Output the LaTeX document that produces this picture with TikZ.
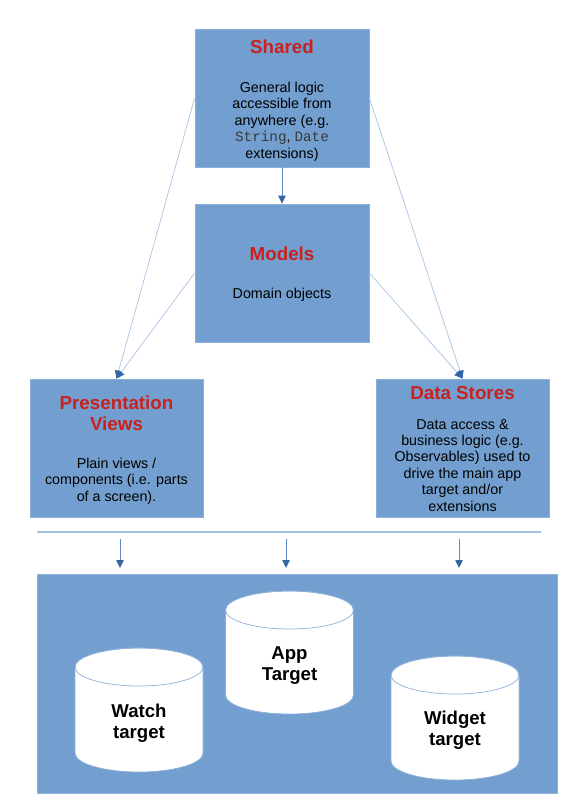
\documentclass[tikz,border=0pt]{standalone}
\usepackage{fontspec}
\setmainfont{Liberation Sans}
\newfontfamily\codefont{Liberation Mono}
\usetikzlibrary{arrows.meta}
\definecolor{boxblue}{HTML}{729FCF}
\definecolor{boxedge}{HTML}{8DB0DA}
\definecolor{linkblue}{HTML}{A7C3E3}
\definecolor{tipblue}{HTML}{3465A4}
\definecolor{downblue}{HTML}{5F8BC4}
\definecolor{titlered}{HTML}{C9211E}
\definecolor{codegray}{HTML}{3A3A3A}
\begin{document}
\begin{tikzpicture}[x=1pt,y=-1pt,
  layer/.style={draw=boxedge, line width=0.8pt, fill=boxblue, minimum width=174pt, minimum height=138pt, inner sep=0pt},
  titletext/.style={font=\fontsize{18.8}{21}\selectfont\bfseries, text=titlered, align=center, inner sep=0pt, anchor=north},
  bodytext/.style={font=\fontsize{14.3}{16.4}\selectfont, align=center, inner sep=0pt, anchor=north},
  cyltext/.style={font=\fontsize{18.6}{21}\selectfont\bfseries, align=center, inner sep=0pt, anchor=north},
  link/.style={draw=linkblue, line width=0.7pt, -{Triangle[length=8pt,width=7.5pt,color=tipblue]}},
  downarrow/.style={draw=downblue, line width=0.8pt, -{Triangle[length=8pt,width=7.5pt,color=tipblue]}},
  cylbody/.style={fill=white, draw=boxedge, line width=0.7pt},
  cyltop/.style={draw=boxedge, line width=0.7pt}
]
\useasboundingbox (0,0) rectangle (571,807);

% layer boxes
\node[layer] (shared) at (282,98) {};
\node[layer] (models) at (282,273) {};
\node[layer, minimum width=173pt] (pres) at (116.5,448) {};
\node[layer, minimum width=173pt] (data) at (462.5,448) {};
\node[layer, minimum width=520pt, minimum height=219pt] (targets) at (297,683.5) {};

% texts
\node[titletext] (sharedT) at (282,40) {Shared};
\node[bodytext] (sharedB) at (282,82) {General logic\\accessible from\\anywhere (e.g.\\{\codefont\color{codegray}String}, {\codefont\color{codegray}Date}\\extensions)};
\node[titletext] (modelsT) at (282,247) {Models};
\node[bodytext] (modelsB) at (282,288) {Domain objects};
\node[titletext] (presT) at (116.5,396) {Presentation\\Views};
\node[bodytext] (presB) at (116.5,458) {Plain views /\\components (i.e. parts\\of a screen).};
\node[titletext] (dataT) at (462.5,386) {Data Stores};
\node[bodytext] (dataB) at (462.5,419) {Data access \&\\business logic (e.g.\\Observables) used to\\drive the main app\\target and/or\\extensions};

% connectors between layers
\draw[downarrow] (shared.south) -- (models.north);
\draw[link] (shared.west) -- (pres.north);
\draw[link] (models.west) -- (pres.north);
\draw[link] (shared.east) -- (data.north);
\draw[link] (models.east) -- (data.north);

% separator and arrows into the targets box
\coordinate (sepL) at (37,532);
\coordinate (sepR) at (541,532);
\draw[draw=linkblue, line width=1.2pt] (sepL) -- (sepR);
\coordinate (a1s) at (120,539);
\coordinate (a1e) at (120,568);
\coordinate (a2s) at (286,539);
\coordinate (a2e) at (286,568);
\coordinate (a3s) at (459,539);
\coordinate (a3e) at (459,568);
\draw[downarrow] (a1s) -- (a1e);
\draw[downarrow] (a2s) -- (a2e);
\draw[downarrow] (a3s) -- (a3e);

% cylinders
% App target
\path[cylbody] (225.5,610) -- (225.5,695) arc[start angle=180, end angle=0, x radius=64, y radius=19] -- (353.5,610) arc[start angle=0, end angle=-180, x radius=64, y radius=19] -- cycle;
\draw[cyltop] (289.5,610) ellipse[x radius=64, y radius=19];
% Watch target
\path[cylbody] (75,667) -- (75,753) arc[start angle=180, end angle=0, x radius=64, y radius=19] -- (203,667) arc[start angle=0, end angle=-180, x radius=64, y radius=19] -- cycle;
\draw[cyltop] (139,667) ellipse[x radius=64, y radius=19];
% Widget target
\path[cylbody] (391,675) -- (391,761) arc[start angle=180, end angle=0, x radius=64, y radius=19] -- (519,675) arc[start angle=0, end angle=-180, x radius=64, y radius=19] -- cycle;
\draw[cyltop] (455,675) ellipse[x radius=64, y radius=19];

\node[cyltext] (appT) at (289.5,646) {App\\Target};
\node[cyltext] (watchT) at (139,704) {Watch\\target};
\node[cyltext] (widgetT) at (455,711) {Widget\\target};
\end{tikzpicture}
\end{document}
